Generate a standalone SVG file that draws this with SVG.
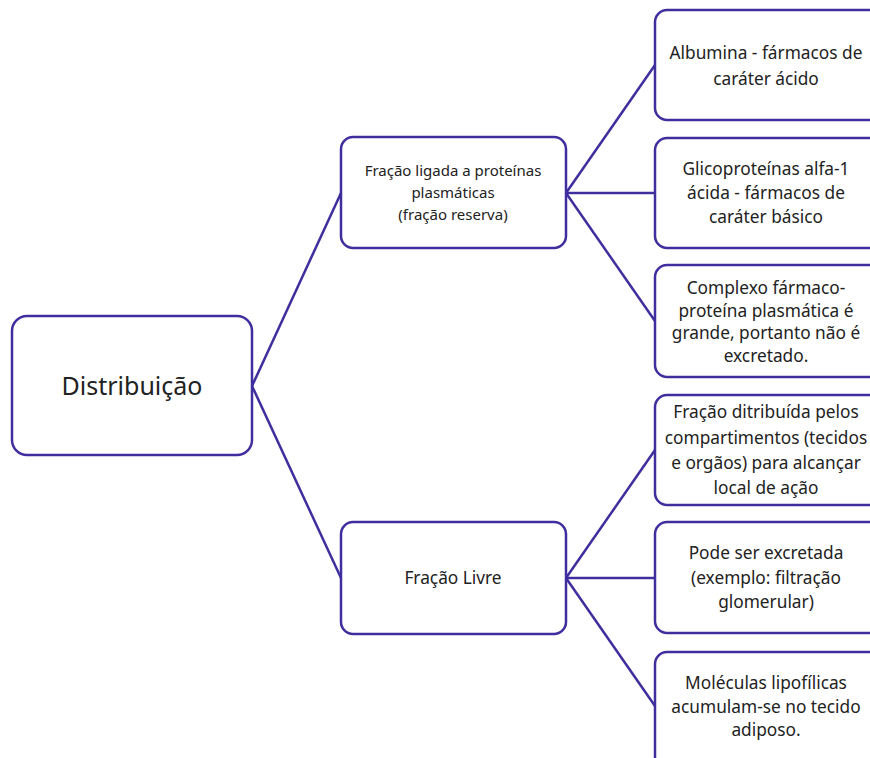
<svg xmlns="http://www.w3.org/2000/svg" width="870" height="758" viewBox="0 0 870 758">
<style>
.box{fill:#fff;stroke:#3f2e9e;stroke-width:2.5}
.con line{stroke:#3f2e9e;stroke-width:2.5}
text{font-family:"Noto Sans","Lato",sans-serif;fill:#222;text-anchor:middle}
.t{font-size:17.3px}
.s{font-size:15px}
</style>
<rect width="870" height="758" fill="#fff"/>
<g class="con">
<line x1="252" y1="386" x2="341" y2="193"/>
<line x1="252" y1="386" x2="341" y2="578"/>
<line x1="566" y1="193" x2="655" y2="65"/>
<line x1="566" y1="193" x2="655" y2="193"/>
<line x1="566" y1="193" x2="655" y2="321"/>
<line x1="566" y1="578" x2="655" y2="450"/>
<line x1="566" y1="578" x2="655" y2="578"/>
<line x1="566" y1="578" x2="655" y2="706"/>
</g>
<g id="root"><rect class="box" x="12" y="316" width="240" height="139" rx="15"/>
<text x="132" y="395" style="font-size:25px">Distribuição</text></g>
<g id="ligada"><rect class="box" x="341" y="137" width="225" height="111" rx="12"/>
<text class="s" x="453" y="176">Fração ligada a proteínas</text>
<text class="s" x="453" y="198">plasmáticas</text>
<text class="s" x="453" y="220">(fração reserva)</text></g>
<g id="livre"><rect class="box" x="341" y="522" width="225" height="112" rx="12"/>
<text class="t" x="453" y="584">Fração Livre</text></g>
<g id="albumina"><rect class="box" x="655" y="10" width="230" height="110" rx="12"/>
<text class="t" x="766" y="59">Albumina - fármacos de</text>
<text class="t" x="766" y="85">caráter ácido</text></g>
<g id="glico"><rect class="box" x="655" y="138" width="230" height="110" rx="12"/>
<text class="t" x="766" y="175">Glicoproteínas alfa-1</text>
<text class="t" x="766" y="199">ácida - fármacos de</text>
<text class="t" x="766" y="223">caráter básico</text></g>
<g id="complexo"><rect class="box" x="655" y="265" width="230" height="112" rx="12"/>
<text class="t" x="766" y="294">Complexo fármaco-</text>
<text class="t" x="766" y="317">proteína plasmática é</text>
<text class="t" x="766" y="339">grande, portanto não é</text>
<text class="t" x="766" y="362">excretado.</text></g>
<g id="distribuida"><rect class="box" x="655" y="395" width="230" height="110" rx="12"/>
<text class="t" x="766" y="418">Fração ditribuída pelos</text>
<text class="t" x="766" y="444">compartimentos (tecidos</text>
<text class="t" x="766" y="469">e orgãos) para alcançar</text>
<text class="t" x="766" y="494">local de ação</text></g>
<g id="excretada"><rect class="box" x="655" y="522" width="230" height="111" rx="12"/>
<text class="t" x="766" y="559">Pode ser excretada</text>
<text class="t" x="766" y="584">(exemplo: filtração</text>
<text class="t" x="766" y="608">glomerular)</text></g>
<g id="lipofilicas"><rect class="box" x="655" y="652" width="230" height="120" rx="12"/>
<text class="t" x="766" y="689">Moléculas lipofílicas</text>
<text class="t" x="766" y="713">acumulam-se no tecido</text>
<text class="t" x="766" y="736">adiposo.</text></g>
</svg>
